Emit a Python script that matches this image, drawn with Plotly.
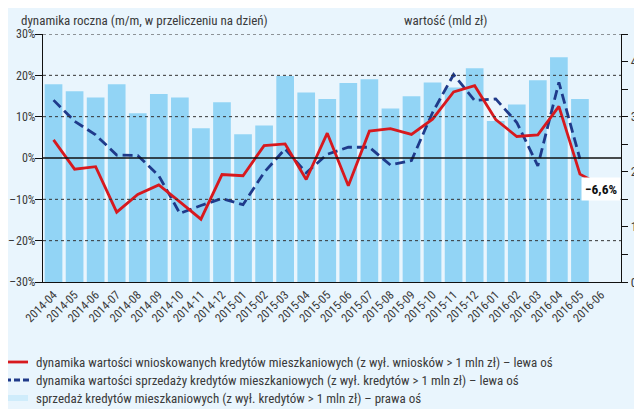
import plotly.graph_objects as go

months = ["2014-04","2014-05","2014-06","2014-07","2014-08","2014-09","2014-10","2014-11","2014-12",
          "2015-01","2015-02","2015-03","2015-04","2015-05","2015-06","2015-07","2015-08","2015-09",
          "2015-10","2015-11","2015-12","2016-01","2016-02","2016-03","2016-04","2016-05","2016-06"]

# sprzedaż kredytów mieszkaniowych (mld zł) - right axis
sales_value = [3.59, 3.46, 3.35, 3.59, 3.06, 3.41, 3.35, 2.79, 3.26,
               2.68, 2.84, 3.74, 3.44, 3.32, 3.61, 3.68, 3.15, 3.37,
               3.62, 3.53, 3.88, 2.92, 3.22, 3.66, 4.08, 3.32, None]

# dynamika wartości wnioskowanych kredytów (%) - left axis
applications_yoy = [4.4, -2.7, -2.1, -13.1, -8.8, -6.5, -10.6, -14.8, -4.0,
                    -4.3, 3.0, 3.4, -5.2, 6.0, -6.7, 6.5, 7.1, 5.7,
                    9.4, 16.0, 17.5, 9.3, 5.2, 5.6, 12.5, -3.9, -6.6]

# dynamika wartości sprzedaży kredytów (%) - left axis
sales_yoy = [14.0, 8.9, 5.6, 0.7, 0.6, -4.3, -13.4, -11.5, -9.8,
             -11.3, -3.5, 2.2, -3.6, 0.9, 2.6, 2.6, -1.7, -0.6,
             11.0, 20.2, 13.9, 14.3, 8.6, -1.9, 18.3, -0.2, None]

left_ticks = [-30, -20, -10, 0, 10, 20, 30]
left_ticktext = ["\u201330%", "\u2013\u200a20%", "\u201310%", "0%", "10%", "20%", "30%"]
right_ticks = [0, 0.5, 1, 1.5, 2, 2.5, 3, 3.5, 4, 4.5]
right_ticktext = ["0", "", "1", "", "2", "", "3", "", "4", ""]
grid_vals = [-20, -10, 10, 20, 30]

legend_labels = [
    "dynamika wartości wnioskowanych kredytów mieszkaniowych (z wył. wniosków > 1 mln zł) \u2013 lewa oś",
    "dynamika wartości sprzedaży kredytów mieszkaniowych (z wył. kredytów > 1 mln zł) \u2013 lewa oś",
    "sprzedaż kredytów mieszkaniowych (z wył. kredytów > 1 mln zł) \u2013 prawa oś",
]

FONT = "Roboto Condensed, Liberation Sans Narrow, Arial Narrow, sans-serif"
TXT = "#3a3a3a"
BG = "#E9F5FD"
BAR = "#92D4F5"
RED = "#D7191E"
NAVY = "#1F3A8A"

OFF = 8  # default page body margin around the figure
W, H = 642 - OFF, 409 - OFF
ml, mt = 43 - OFF, 34 - OFF
mr = 642 - 621
mb = 409 - 282
pw, ph = W - ml - mr, H - mt - mb

def px_x(px):
    return (px - OFF - ml) / pw

def px_y(py):
    return 1 - (py - OFF - mt) / ph

fig = go.Figure()
fig.add_trace(go.Bar(x=months, y=sales_value, marker_color=BAR, marker_line_width=0,
                     yaxis="y", showlegend=False))
fig.add_trace(go.Scatter(x=months, y=sales_yoy, mode="lines", yaxis="y2",
                         line=dict(color=NAVY, width=2.8, dash="10px,5px"), showlegend=False))
fig.add_trace(go.Scatter(x=months, y=applications_yoy, mode="lines", yaxis="y2",
                         line=dict(color=RED, width=2.8), showlegend=False))

shapes = []
for g in grid_vals:
    shapes.append(dict(type="line", xref="paper", yref="y2", x0=0, x1=1, y0=g, y1=g,
                       line=dict(color="#333333", width=1, dash="dot"), layer="above"))
shapes.append(dict(type="line", xref="paper", yref="y2", x0=0, x1=1, y0=0, y1=0,
                   line=dict(color="#111111", width=1.3), layer="above"))

# manual legend
leg_y = [362, 380, 398]
shapes.append(dict(type="line", xref="paper", yref="paper", x0=px_x(5), x1=px_x(28),
                   y0=px_y(leg_y[0]), y1=px_y(leg_y[0]), line=dict(color=RED, width=2.8)))
shapes.append(dict(type="line", xref="paper", yref="paper", x0=px_x(5), x1=px_x(29),
                   y0=px_y(leg_y[1]), y1=px_y(leg_y[1]), line=dict(color=NAVY, width=2.8, dash="6px,3px")))
shapes.append(dict(type="rect", xref="paper", yref="paper", x0=px_x(5), x1=px_x(28),
                   y0=px_y(leg_y[2] + 3), y1=px_y(leg_y[2] - 3), line=dict(width=0),
                   fillcolor="#CFECFB"))

annotations = []
for lbl, py in zip(legend_labels, leg_y):
    annotations.append(dict(text=lbl, xref="paper", yref="paper", x=px_x(34), y=px_y(py),
                            xanchor="left", yanchor="middle", showarrow=False,
                            font=dict(family=FONT, size=13, color=TXT)))
annotations.append(dict(text="dynamika roczna (m/m, w przeliczeniu na dzień)", xref="paper", yref="paper",
                        x=px_x(19), y=px_y(21), xanchor="left", yanchor="middle", showarrow=False,
                        font=dict(family=FONT, size=13, color=TXT)))
annotations.append(dict(text="wartość (mld zł)", xref="paper", yref="paper",
                        x=px_x(490), y=px_y(21), xanchor="right", yanchor="middle", showarrow=False,
                        font=dict(family=FONT, size=13, color=TXT)))
annotations.append(dict(text="<b>\u22126,6%</b>", xref="x", yref="y2", x=months[-1], y=applications_yoy[-1],
                        xanchor="center", yanchor="middle", yshift=-4, showarrow=False,
                        bgcolor="white", borderpad=3,
                        font=dict(family=FONT, size=13.5, color="#111111")))

fig.update_layout(
    width=W, height=H,
    margin=dict(l=ml, r=mr, t=mt, b=mb, autoexpand=False),
    paper_bgcolor=BG, plot_bgcolor=BG,
    bargap=0.16,
    font=dict(family=FONT, size=12, color=TXT),
    xaxis=dict(type="category", tickangle=-45, showgrid=False, ticks="", automargin=False,
               tickfont=dict(family=FONT, size=12, color=TXT),
               showline=True, linecolor="#111111", linewidth=1.3, mirror=False),
    yaxis=dict(side="right", range=[0, 4.5], tickvals=right_ticks, ticktext=right_ticktext, automargin=False,
               showgrid=False, zeroline=False, ticks="outside", ticklen=6, tickcolor="#111111",
               showline=True, linecolor="#111111", linewidth=1.3,
               tickfont=dict(family=FONT, size=13, color=TXT)),
    yaxis2=dict(side="left", overlaying="y", range=[-30, 30], tickvals=left_ticks, ticktext=left_ticktext,
                automargin=False, ticklabelstandoff=-3,
                showgrid=False, zeroline=False, ticks="outside", ticklen=7, tickcolor="#111111",
                showline=True, linecolor="#111111", linewidth=1.3,
                tickfont=dict(family=FONT, size=12, color=TXT)),
    shapes=shapes,
    annotations=annotations,
)

fig.write_html("out.html")
